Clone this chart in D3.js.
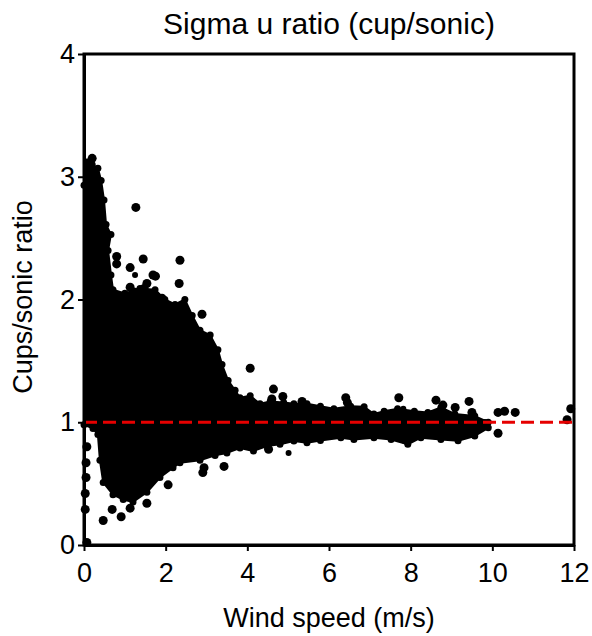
<!DOCTYPE html>
<html><head><meta charset="utf-8">
<script src="https://cdn.jsdelivr.net/npm/d3@7"></script>
<style>
body{margin:0;background:#fff;}
svg{display:block;font-family:"Liberation Sans",Arial,sans-serif;}
</style></head>
<body><svg id="c" width="592" height="636"></svg>
<script>
// ---- data ----
const xTicks = [0, 2, 4, 6, 8, 10, 12];
const yTicks = [0, 1, 2, 3, 4];
// upper edge of the dense cloud of points
const upperSpeed = [0, 0.07, 0.2, 0.34, 0.42, 0.49, 0.54, 0.66, 0.59, 0.66, 0.71, 1.0, 1.37, 1.74, 1.98, 2.23, 2.47, 2.65, 2.84, 3.09, 3.28, 3.38, 3.53, 3.70, 3.82, 4.07, 4.31, 4.56, 4.89, 5.14, 5.46, 5.79, 6.12, 6.53, 6.86, 7.1, 7.35, 7.68, 8.09, 8.42, 8.74, 9.08, 9.57, 9.9];
const upperRatio = [2.93, 3.12, 3.10, 3.07, 2.97, 2.81, 2.61, 2.53, 2.40, 2.20, 2.08, 2.05, 2.09, 2.08, 2.0, 1.96, 2.0, 1.87, 1.75, 1.71, 1.59, 1.47, 1.34, 1.26, 1.20, 1.215, 1.15, 1.17, 1.16, 1.15, 1.15, 1.13, 1.11, 1.13, 1.126, 1.067, 1.09, 1.11, 1.09, 1.08, 1.12, 1.067, 1.05, 1.0];
// lower edge of the dense cloud of points
const lowerSpeed = [0, 0.22, 0.34, 0.39, 0.47, 0.71, 0.96, 1.2, 1.54, 1.86, 2.18, 2.35, 2.84, 3.21, 3.5, 3.82, 4.15, 4.48, 4.8, 5.14, 5.46, 5.79, 6.29, 6.61, 7.1, 7.52, 7.93, 8.25, 8.74, 9.16, 9.57, 9.9];
const lowerRatio = [0.98, 0.95, 0.90, 0.69, 0.51, 0.41, 0.37, 0.35, 0.43, 0.55, 0.63, 0.67, 0.69, 0.73, 0.75, 0.79, 0.766, 0.806, 0.82, 0.847, 0.833, 0.852, 0.874, 0.86, 0.874, 0.86, 0.82, 0.874, 0.86, 0.85, 0.888, 0.955];
// individual scattered points (wind speed, ratio)
const outSpeed = [0.2, 1.27, 1.45, 2.35, 0.8, 0.8, 1.13, 1.69, 1.54, 1.75, 2.33, 1.13, 1.25, 1.47, 1.91, 2.89, 4.07, 4.64, 4.87, 4.6, 5.34, 6.41, 6.45, 7.71, 8.62, 8.79, 9.09, 9.43, 9.5, 9.82, 10.14, 10.3, 10.56, 10.14, 11.92, 11.83, 4.52, 2.91, 2.94, 3.43, 2.06, 1.54, 1.13, 0.91, 0.69, 0.47, 0.07, 0.03, 0.03, 0.05, 0.05, 0.07];
const outRatio = [3.15, 2.75, 2.33, 2.32, 2.35, 2.29, 2.26, 2.2, 2.13, 2.19, 2.13, 2.1, 2.06, 2.09, 2.01, 1.88, 1.44, 1.27, 1.21, 1.19, 1.17, 1.2, 1.16, 1.2, 1.18, 1.14, 1.12, 1.17, 1.08, 0.99, 1.08, 1.09, 1.08, 0.91, 1.11, 1.02, 0.78, 0.59, 0.63, 0.64, 0.49, 0.34, 0.3, 0.23, 0.29, 0.2, 0.02, 0.42, 0.29, 0.67, 0.55, 0.8];
const smallSpeed = [5.01, 7.84, 7.82, 1.25, 2.6];
const smallRatio = [0.75, 0.85, 1.11, 2.2, 1.7];
const refLine = [1];

// ---- drawing ----
const svg = d3.select("#c");
const x = d3.scaleLinear().domain([0, 12]).range([84, 574]);
const y = d3.scaleLinear().domain([0, 4]).range([545, 54]);

svg.append("text").attr("x", 329).attr("y", 34).attr("text-anchor", "middle")
  .attr("font-size", 30).attr("fill", "#000").text("Sigma u ratio (cup/sonic)");

const upperPts = upperSpeed.map((v, i) => [v, upperRatio[i]]);
const lowerPts = lowerSpeed.map((v, i) => [v, lowerRatio[i]]);
const outline = upperPts.concat(lowerPts.slice().reverse());
const line = d3.line().x(d => x(d[0])).y(d => y(d[1])).curve(d3.curveLinearClosed);
svg.append("path").datum(outline).attr("d", line)
  .attr("fill", "#000").attr("stroke", "#000").attr("stroke-width", 2).attr("stroke-linejoin", "round");
// rounded edge dots of the cloud
svg.append("g").selectAll("circle").data(outline).join("circle")
  .attr("cx", d => x(d[0])).attr("cy", d => y(d[1])).attr("r", 3.5).attr("fill", "#000");

svg.append("g").selectAll("circle").data(outSpeed.map((v, i) => [v, outRatio[i]])).join("circle")
  .attr("cx", d => x(d[0])).attr("cy", d => y(d[1])).attr("r", 4.5).attr("fill", "#000");
svg.append("g").selectAll("circle").data(smallSpeed.map((v, i) => [v, smallRatio[i]])).join("circle")
  .attr("cx", d => x(d[0])).attr("cy", d => y(d[1])).attr("r", 3).attr("fill", "#000");

svg.append("g").selectAll("line").data(refLine).join("line")
  .attr("x1", x(0)).attr("x2", x(12)).attr("y1", d => y(d)).attr("y2", d => y(d))
  .attr("stroke", "#e60000").attr("stroke-width", 3).attr("stroke-dasharray", "13,6");

// frame
svg.append("rect").attr("x", x(0)).attr("y", y(4)).attr("width", x(12) - x(0)).attr("height", y(0) - y(4))
  .attr("fill", "none").attr("stroke", "#000").attr("stroke-width", 3);

const xa = svg.append("g").attr("transform", `translate(0,${y(0)})`)
  .call(d3.axisBottom(x).tickValues(xTicks).tickFormat(d3.format("d")).tickSize(6).tickSizeOuter(0).tickPadding(12));
const ya = svg.append("g").attr("transform", `translate(${x(0)},0)`)
  .call(d3.axisLeft(y).tickValues(yTicks).tickFormat(d3.format("d")).tickSize(6).tickSizeOuter(0).tickPadding(3));
[xa, ya].forEach(a => {
  a.select(".domain").attr("stroke", "#000").attr("stroke-width", 3);
  a.selectAll(".tick line").attr("stroke", "#000").attr("stroke-width", 2);
  a.selectAll(".tick text").attr("font-size", 27).attr("fill", "#000")
   .attr("font-family", "Liberation Sans, Arial, sans-serif");
});

svg.append("text").attr("x", 329).attr("y", 627).attr("text-anchor", "middle")
  .attr("font-size", 27).attr("fill", "#000").text("Wind speed (m/s)");
svg.append("text").attr("transform", "translate(32,297) rotate(-90)").attr("text-anchor", "middle")
  .attr("font-size", 27).attr("fill", "#000").text("Cups/sonic ratio");
</script></body></html>
